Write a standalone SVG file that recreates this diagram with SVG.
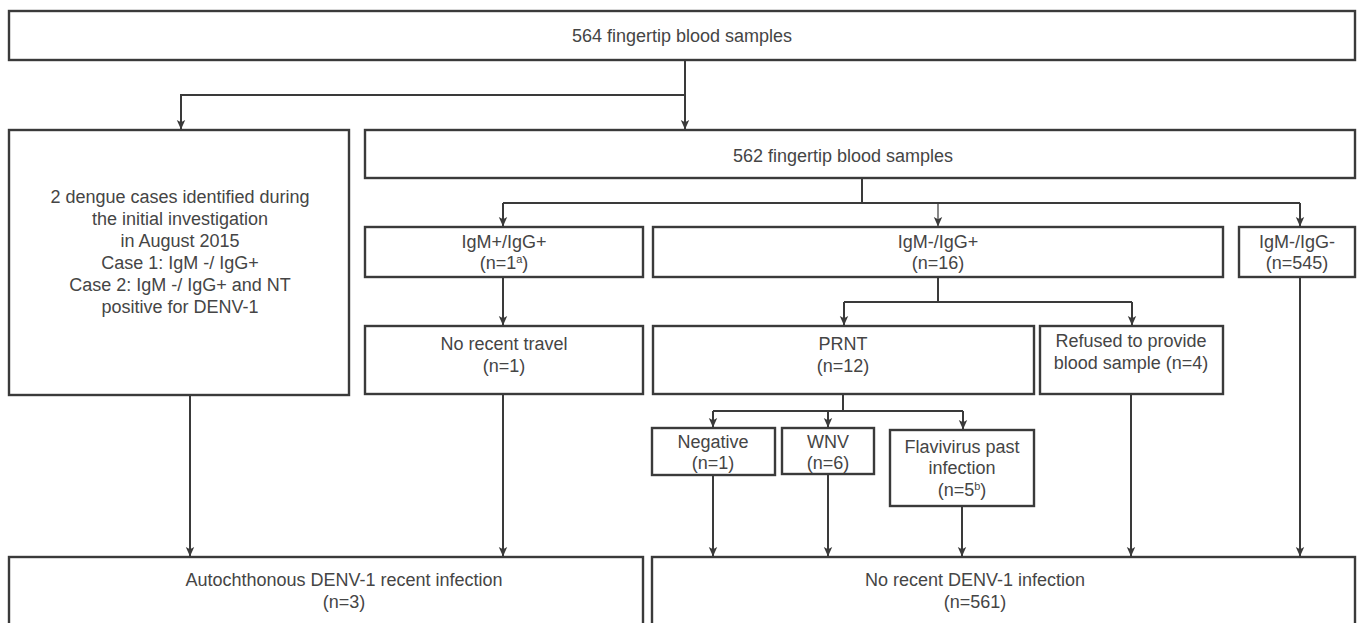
<svg xmlns="http://www.w3.org/2000/svg" width="1364" height="623" viewBox="0 0 1364 623">
<style>
.box{fill:#fff;stroke:#3a3a3a;stroke-width:2.4}
.t{font-family:"Liberation Sans",Arial,sans-serif;font-size:18px;fill:#454545;text-anchor:middle}
.sup{font-size:11px}
.c{fill:none;stroke:#3a3a3a;stroke-width:2}
.thin{fill:none;stroke:#3a3a3a;stroke-width:1.2}
</style>
<defs>
<marker id="arr" markerUnits="userSpaceOnUse" markerWidth="10" markerHeight="10" refX="9" refY="5" orient="auto" viewBox="0 0 10 10">
<path d="M0,0.8 L9.5,5 L0,9.2 L2.2,5 Z" fill="#3a3a3a"/>
</marker>
</defs>
<g id="connectors">
<path class="c" d="M685,60 V129" marker-end="url(#arr)"/>
<path class="c" d="M685,95 H181 V129" marker-end="url(#arr)"/>
<path class="c" d="M862,178 V203"/>
<path class="c" d="M503,203 H1300"/>
<path class="c" d="M503,203 V226" marker-end="url(#arr)"/>
<path class="thin" d="M938,203 V226" marker-end="url(#arr)"/>
<path class="c" d="M1300,203 V226" marker-end="url(#arr)"/>
<path class="c" d="M503,277 V325" marker-end="url(#arr)"/>
<path class="c" d="M938,277 V302 M844,302 H1132"/>
<path class="c" d="M844,302 V325" marker-end="url(#arr)"/>
<path class="c" d="M1132,302 V325" marker-end="url(#arr)"/>
<path class="c" d="M843,394 V411 M713,411 H963"/>
<path class="c" d="M713,411 V427" marker-end="url(#arr)"/>
<path class="c" d="M828,411 V427" marker-end="url(#arr)"/>
<path class="c" d="M963,411 V429" marker-end="url(#arr)"/>
<path class="c" d="M190,395 V556" marker-end="url(#arr)"/>
<path class="c" d="M503,394 V556" marker-end="url(#arr)"/>
<path class="c" d="M713,475 V556" marker-end="url(#arr)"/>
<path class="c" d="M828,474 V556" marker-end="url(#arr)"/>
<path class="c" d="M962,506 V556" marker-end="url(#arr)"/>
<path class="c" d="M1131,394 V556" marker-end="url(#arr)"/>
<path class="c" d="M1300,277 V556" marker-end="url(#arr)"/>
</g>
<g id="n564">
<rect class="box" x="9" y="11" width="1346" height="49"/>
<text class="t" x="682" y="42">564 fingertip blood samples</text>
</g>
<g id="nDengue">
<rect class="box" x="9" y="130" width="340" height="265"/>
<text class="t" x="180" y="203">2 dengue cases identified during</text>
<text class="t" x="180" y="225">the initial investigation</text>
<text class="t" x="180" y="247">in August 2015</text>
<text class="t" x="180" y="269">Case 1: IgM -/ IgG+</text>
<text class="t" x="180" y="291">Case 2: IgM -/ IgG+ and NT</text>
<text class="t" x="180" y="313">positive for DENV-1</text>
</g>
<g id="n562">
<rect class="box" x="365" y="130" width="990" height="48"/>
<text class="t" x="843" y="162">562 fingertip blood samples</text>
</g>
<g id="nIgMpIgGp">
<rect class="box" x="365" y="227" width="278" height="50"/>
<text class="t" x="504" y="248">IgM+/IgG+</text>
<text class="t" x="504" y="269">(n=1<tspan class="sup" dy="-6">a</tspan><tspan dy="6">)</tspan></text>
</g>
<g id="nIgMmIgGp">
<rect class="box" x="653" y="227" width="570" height="50"/>
<text class="t" x="938" y="248">IgM-/IgG+</text>
<text class="t" x="938" y="269">(n=16)</text>
</g>
<g id="nIgMmIgGm">
<rect class="box" x="1239" y="227" width="116" height="50"/>
<text class="t" x="1297" y="248">IgM-/IgG-</text>
<text class="t" x="1297" y="269">(n=545)</text>
</g>
<g id="nTravel">
<rect class="box" x="365" y="326" width="278" height="68"/>
<text class="t" x="504" y="350">No recent travel</text>
<text class="t" x="504" y="372">(n=1)</text>
</g>
<g id="nPRNT">
<rect class="box" x="653" y="326" width="381" height="68"/>
<text class="t" x="843" y="350">PRNT</text>
<text class="t" x="843" y="372">(n=12)</text>
</g>
<g id="nRefused">
<rect class="box" x="1040" y="326" width="183" height="68"/>
<text class="t" x="1131" y="347">Refused to provide</text>
<text class="t" x="1131" y="369">blood sample (n=4)</text>
</g>
<g id="nNegative">
<rect class="box" x="652" y="428" width="123" height="47"/>
<text class="t" x="713" y="448">Negative</text>
<text class="t" x="713" y="469">(n=1)</text>
</g>
<g id="nWNV">
<rect class="box" x="782" y="428" width="92" height="46"/>
<text class="t" x="828" y="448">WNV</text>
<text class="t" x="828" y="469">(n=6)</text>
</g>
<g id="nFlavi">
<rect class="box" x="890" y="430" width="144" height="76"/>
<text class="t" x="962" y="453">Flavivirus past</text>
<text class="t" x="962" y="474">infection</text>
<text class="t" x="962" y="496">(n=5<tspan class="sup" dy="-6">b</tspan><tspan dy="6">)</tspan></text>
</g>
<g id="nAuto">
<rect class="box" x="9" y="557" width="634" height="80"/>
<text class="t" x="344" y="586">Autochthonous DENV-1 recent infection</text>
<text class="t" x="344" y="608">(n=3)</text>
</g>
<g id="nNoRecent">
<rect class="box" x="652" y="557" width="703" height="80"/>
<text class="t" x="975" y="586">No recent DENV-1 infection</text>
<text class="t" x="975" y="608">(n=561)</text>
</g>
</svg>
